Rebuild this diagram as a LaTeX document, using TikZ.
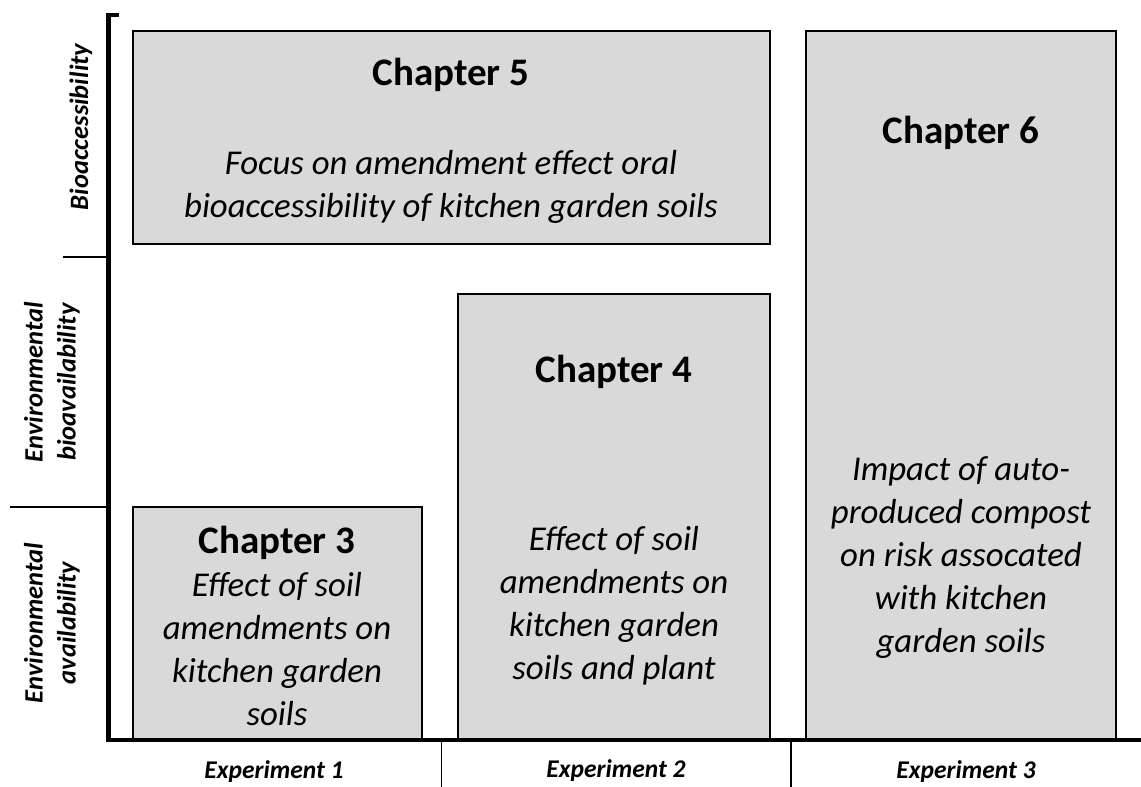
\documentclass[tikz,border=0pt]{standalone}
\usepackage{fontspec}
\setmainfont{Carlito}
\definecolor{boxgray}{HTML}{D9D9D9}
\begin{document}
\begin{tikzpicture}[x=1pt,y=-1pt,
  chapbox/.style={draw=black,fill=boxgray,line width=1.5pt},
  axisline/.style={line width=4.2pt},
  divline/.style={line width=1.4pt},
  chaptitle/.style={font=\fontsize{39}{44}\selectfont\bfseries,inner sep=0pt},
  chaptext/.style={font=\fontsize{34.8}{43}\selectfont\itshape,align=center,inner sep=0pt},
  axislabel/.style={font=\fontsize{26.5}{33}\selectfont\bfseries\itshape,align=center,inner sep=0pt},
  explabel/.style={font=\fontsize{25.5}{30}\selectfont\bfseries\itshape,inner sep=0pt}]
\useasboundingbox (0,0) rectangle (1141,787);
% boxes
\path[chapbox] (133,507) rectangle (422,740);
\path[chapbox] (458,294) rectangle (770,740);
\path[chapbox] (133,31) rectangle (770,244);
\path[chapbox] (806,31) rectangle (1116,740);
% axes
\coordinate (ytop) at (108.5,15);
\coordinate (ytick) at (119,15);
\coordinate (origin) at (108.5,740);
\coordinate (xend) at (1141,740);
\draw[axisline,line cap=butt] (ytick) -- (ytop) -- (origin) -- (xend);
% dividers
\coordinate (d1a) at (63,257); \coordinate (d1b) at (108,257);
\coordinate (d2a) at (10,507); \coordinate (d2b) at (108,507);
\coordinate (e1a) at (441.5,740); \coordinate (e1b) at (441.5,787);
\coordinate (e2a) at (791,740); \coordinate (e2b) at (791,787);
\draw[divline] (d1a) -- (d1b);
\draw[divline] (d2a) -- (d2b);
\draw[divline] (e1a) -- (e1b);
\draw[divline] (e2a) -- (e2b);
% chapter texts
\node[chaptitle] (c5) at (451,75) {Chapter 5};
\node[chaptext] (t5) at (451,187) {Focus on amendment effect oral\\bioaccessibility of kitchen garden soils};
\node[chaptitle] (c6) at (961,133) {Chapter 6};
\node[chaptext] (t6) at (961,558) {Impact of auto-\\produced compost\\on risk assocated\\with kitchen\\garden soils};
\node[chaptitle] (c4) at (614,372) {Chapter 4};
\node[chaptext] (t4) at (614,606) {Effect of soil\\amendments on\\kitchen garden\\soils and plant};
\node[chaptitle] (c3) at (277,543) {Chapter 3};
\node[chaptext] (t3) at (277,649) {Effect of soil\\amendments on\\kitchen garden\\soils};
% axis labels
\node[axislabel,rotate=90] (yl1) at (81,127) {Bioaccessibility};
\node[axislabel,rotate=90] (yl2) at (52,382) {Environmental\\bioavailability};
\node[axislabel,rotate=90] (yl3) at (52,623) {Environmental\\availability};
\node[explabel] (xl1) at (274,772) {Experiment 1};
\node[explabel] (xl2) at (616,771) {Experiment 2};
\node[explabel] (xl3) at (966,772) {Experiment 3};
\end{tikzpicture}
\end{document}
